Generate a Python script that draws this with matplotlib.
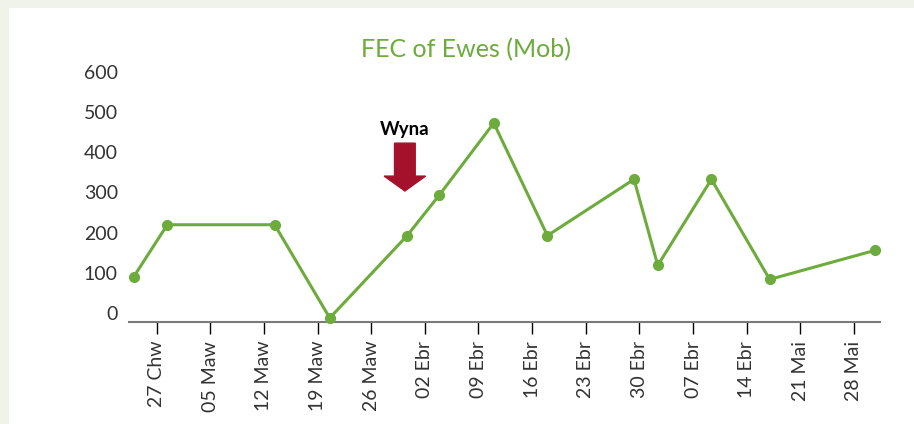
import matplotlib
matplotlib.use("Agg")
import matplotlib.pyplot as plt
from matplotlib.transforms import ScaledTranslation
from matplotlib.patches import Rectangle

plt.rcParams['font.family'] = ['Lato', 'DejaVu Sans']

# days counted from the "27 Chw" tick
days = [-3, 1.4, 15.4, 22.6, 32.7, 36.9, 44, 51, 62.3, 65.4, 72.4, 80, 93.7]
fec = [102, 232, 232, 0, 205, 306, 485, 205, 345, 131, 345, 96, 168]

tick_days = [0, 7, 14, 21, 28, 35, 42, 49, 56, 63, 70, 77, 84, 91]
tick_labels = ["27 Chw", "05 Maw", "12 Maw", "19 Maw", "26 Maw", "02 Ebr", "09 Ebr",
               "16 Ebr", "23 Ebr", "30 Ebr", "07 Ebr", "14 Ebr", "21 Mai", "28 Mai"]
y_ticks = [0, 100, 200, 300, 400, 500, 600]

green = "#6cab3c"

fig = plt.figure(figsize=(9.14, 4.24), dpi=100)
fig.patch.set_facecolor("#f0f3ea")
# white panel
fig.patches.append(Rectangle((9 / 914, 0), 1, 1 - 8 / 424, transform=fig.transFigure,
                             facecolor="white", edgecolor="none", zorder=-1))

ax = fig.add_axes([129 / 914, 1 - 322 / 424, (880 - 129) / 914, (322 - 68.8) / 424])
ax.set_facecolor("none")

ax.plot(days, fec, color=green, lw=2.2, marker="o", ms=7, clip_on=False, zorder=3)

ax.set_xlim(-3.6, 94.4)
ax.set_ylim(-10, 620)

ax.set_xticks(tick_days)
ax.set_xticklabels(tick_labels, rotation=90, fontsize=14, color="#333333")
ax.set_yticks(y_ticks)
ax.set_yticklabels([str(v) for v in y_ticks], fontsize=14, color="#333333")
ax.tick_params(axis="y", length=0, pad=8)
ax.tick_params(axis="x", length=8.5, width=1, color="black", pad=5)
for lab in ax.get_yticklabels():
    lab.set_transform(lab.get_transform() + ScaledTranslation(0, 5 / 100, fig.dpi_scale_trans))

for side in ["top", "right", "left"]:
    ax.spines[side].set_visible(False)
ax.spines["bottom"].set_color("#7a7a7a")
ax.spines["bottom"].set_linewidth(1.5)

# lambing arrow
ax.arrow(32.4, 435, 0, -119, width=2.7, head_width=5.4, head_length=37,
         length_includes_head=True, color="#a3122a", zorder=4)
ax.text(32.4, 470, "Wyna", ha="center", va="center", fontsize=13.5,
        fontweight="bold", color="black")

fig.text(466 / 914, 1 - 50 / 424, "FEC of Ewes (Mob)", ha="center", va="center",
         fontsize=18, color=green)

fig.savefig("out.png", dpi=100)
